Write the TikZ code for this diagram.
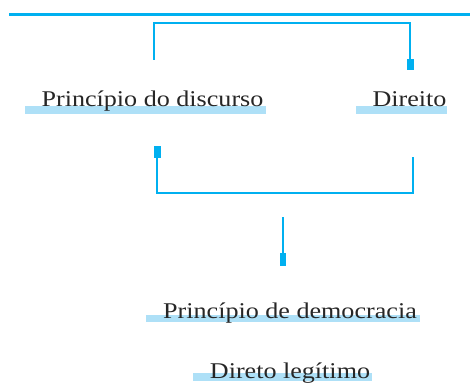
\documentclass[tikz,border=0pt]{standalone}
\usepackage{fontspec}
\setmainfont{Liberation Serif}[FakeStretch=1.16]
\definecolor{lineblue}{RGB}{0,176,240}
\definecolor{hlblue}{RGB}{174,224,247}
\begin{document}
\begin{tikzpicture}[x=1pt,y=-1pt,
  lbl/.style={inner sep=0pt,anchor=base,font=\fontsize{22.5}{26}\selectfont,text=black!85},
  conn/.style={draw=lineblue,line width=2.6pt},
  tipblock/.style={fill=lineblue},
  hl/.style={fill=hlblue}]
\useasboundingbox (0,0) rectangle (470,382);
% highlight bars
\fill[hl] (25,106) rectangle (266,114);
\fill[hl] (356,106) rectangle (447,114);
\fill[hl] (146,315) rectangle (420,322);
\fill[hl] (193,373) rectangle (372,381);
% labels
\node[lbl] (n1) at (152.5,107) {Princípio do discurso};
\node[lbl] (n2) at (409.5,107) {Direito};
\node[lbl] (n3) at (290,318) {Princípio de democracia};
\node[lbl] (n4) at (290,378) {Direto legítimo};
% top rule
\draw[draw=lineblue,line width=3pt] (9,15) -- (470,15);
% top bracket
\coordinate (a1) at (154,60);
\coordinate (a2) at (410,60);
\draw[conn] (a1) -- (154,23) -- (410,23) -- (a2);
\fill[tipblock] (407,59) rectangle (414,70);
% lower bracket
\coordinate (b1) at (157,158);
\coordinate (b2) at (413,157);
\draw[conn] (b1) -- (157,193) -- (413,193) -- (b2);
\fill[tipblock] (154,146) rectangle (160.5,158);
% center connector
\coordinate (c1) at (283,217);
\coordinate (c2) at (283,254);
\draw[conn] (c1) -- (c2);
\fill[tipblock] (279.5,253) rectangle (286,266);
\end{tikzpicture}
\end{document}
